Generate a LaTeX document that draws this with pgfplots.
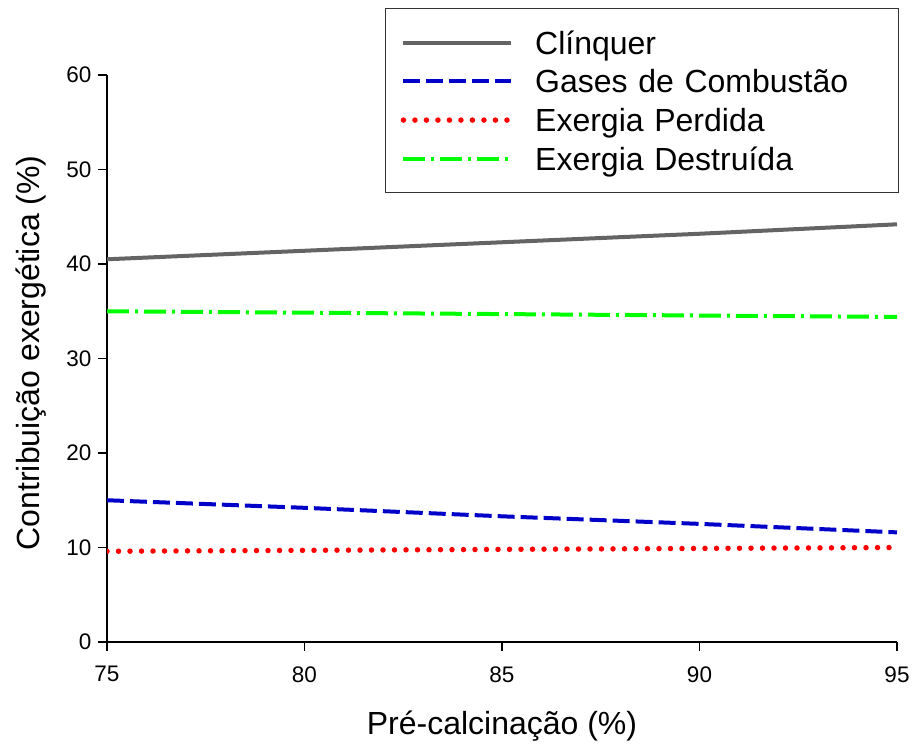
\documentclass[border=0pt]{standalone}
\usepackage{fontspec}
\setmainfont{Liberation Sans}
\usepackage{pgfplots}
\pgfplotsset{compat=1.18}
\definecolor{clgray}{RGB}{100,100,100}
\definecolor{clblue}{RGB}{0,0,200}
\definecolor{clred}{RGB}{255,0,0}
\definecolor{clgreen}{RGB}{0,255,0}
\begin{document}
\begin{tikzpicture}
\useasboundingbox (0,0) rectangle (912bp,746bp);
\begin{axis}[
  at={(107bp,104bp)}, anchor=south west,
  scale only axis, width=790bp, height=567bp,
  xmin=75, xmax=95, ymin=0, ymax=60,
  axis lines*=left,
  axis line style={black, line width=1.4bp},
  xtick={75,80,85,90,95}, ytick={0,10,20,30,40,50,60},
  tick align=outside, major tick length=9bp,
  tick style={black, line width=1.4bp},
  /pgf/number format/assume math mode=true,
  ticklabel style={font=\fontsize{22.5bp}{26bp}\selectfont, text=black},
  xticklabel style={yshift=-12bp},
  yticklabel style={xshift=-3bp},
  xlabel={Pré-calcinação (\%)},
  ylabel={Contribuição exergética (\%)},
  label style={font=\fontsize{32bp}{38bp}\selectfont},
  xlabel style={at={(axis description cs:0.5,-0.164)}, anchor=base},
  ylabel style={at={(axis description cs:-0.085,0.51)}, anchor=base},
  legend cell align=left,
  legend image code/.code={\draw[#1] (0bp,0bp) -- (108bp,0bp);},
  legend style={
    at={(axis description cs:0.352,1.118)}, anchor=north west,
    draw=black!80, line width=1.2bp,
    inner xsep=15bp, inner ysep=16.5bp,
    row sep=3.7bp,
    font=\fontsize{32bp}{38bp}\selectfont,
    nodes={inner sep=0bp, text height=29bp, text depth=6bp},
    /tikz/every odd column/.append style={column sep=21bp},
    /tikz/every even column/.append style={text width=348bp},
  },
]
\addplot[clgray, line width=4bp] coordinates {(75,40.5) (80,41.4) (85,42.3) (90,43.2) (95,44.2)};
\addlegendentry{Clínquer}
\addplot[clblue, line width=4bp, dash pattern=on 17bp off 6bp] coordinates {(75,15.0) (80,14.2) (85,13.3) (90,12.5) (95,11.6)};
\addlegendentry{Gases de Combustão}
\addplot[clred, line width=5.5bp, line cap=round, dash pattern=on 0bp off 11.5bp] coordinates {(75,9.6) (80,9.7) (85,9.8) (90,9.9) (95,10.0)};
\addlegendentry{Exergia Perdida}
\addplot[clgreen, line width=4bp, dash pattern=on 22bp off 6bp on 3bp off 6bp] coordinates {(75,35.0) (80,34.85) (85,34.7) (90,34.55) (95,34.4)};
\addlegendentry{Exergia Destruída}
\end{axis}
\end{tikzpicture}
\end{document}
